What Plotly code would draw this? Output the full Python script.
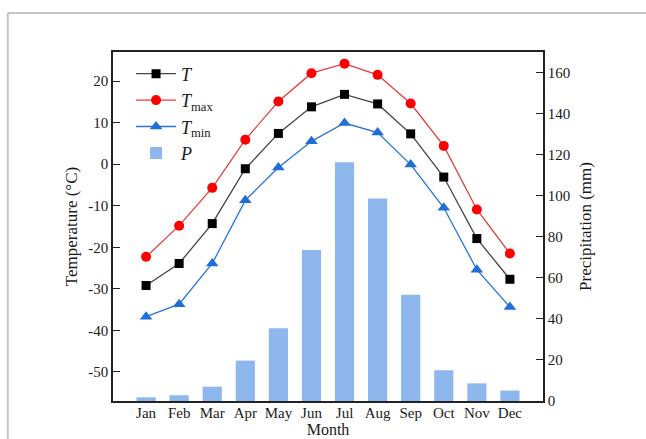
import plotly.graph_objects as go

months = ["Jan", "Feb", "Mar", "Apr", "May", "Jun", "Jul", "Aug", "Sep", "Oct", "Nov", "Dec"]
t_mean = [-29.2, -23.9, -14.3, -1.1, 7.4, 13.8, 16.8, 14.5, 7.3, -3.1, -17.9, -27.7]
t_max = [-22.3, -14.8, -5.7, 5.9, 15.1, 21.9, 24.2, 21.5, 14.6, 4.4, -10.9, -21.5]
t_min = [-36.7, -33.7, -23.9, -8.7, -0.8, 5.5, 9.9, 7.6, -0.1, -10.5, -25.4, -34.4]
precip = [1.8, 2.8, 7.0, 19.7, 35.5, 73.6, 116.4, 98.8, 51.8, 15.0, 8.6, 5.1]
temp_ticks = [-50, -40, -30, -20, -10, 0, 10, 20]
temp_labels = ["-50", "-40", "-30", "-20", "-10", "0", "10", "20"]
precip_ticks = [0, 20, 40, 60, 80, 100, 120, 140, 160]

FONT = "Liberation Serif"
W, H = 646, 439
L, R, T, B = 112.5, 102.5, 52, 38
pw, ph = W - L - R, H - T - B

fig = go.Figure()
fig.add_trace(go.Scatter(x=months, y=t_mean, name="<i>T</i>", mode="lines+markers",
                         line=dict(color="#444444", width=1.3),
                         marker=dict(symbol="square", size=9, color="#000000"), yaxis="y"))
fig.add_trace(go.Scatter(x=months, y=t_max, name="<i>T</i><sub>max</sub>", mode="lines+markers",
                         line=dict(color="#E0403F", width=1.3),
                         marker=dict(symbol="circle", size=10, color="#FF0000"), yaxis="y"))
fig.add_trace(go.Scatter(x=months, y=t_min, name="<i>T</i><sub>min</sub>", mode="lines+markers",
                         line=dict(color="#2A74D4", width=1.3),
                         marker=dict(symbol="triangle-up", size=11, color="#1F6FD6"), yaxis="y"))
fig.add_trace(go.Bar(x=months, y=precip, name="<i>P</i>", marker=dict(color="#8EB7EE", line=dict(width=0)),
                     width=0.58, yaxis="y2"))

def px_x(px):
    return (px - L) / pw

def px_y(py):
    return (H - B - py) / ph

fig.update_layout(
    width=W, height=H,
    margin=dict(l=L, r=R, t=T, b=B, autoexpand=False),
    paper_bgcolor="white", plot_bgcolor="white",
    font=dict(family=FONT, size=15, color="#1a1a1a"),
    showlegend=True,
    legend=dict(x=0.042, y=0.99, xanchor="left", yanchor="top",
                bgcolor="rgba(0,0,0,0)", font=dict(size=18, family=FONT),
                tracegroupgap=0, itemwidth=40),
    xaxis=dict(type="category", range=[-1, 12], showline=True, linecolor="#222", linewidth=1.5,
               mirror=True, ticks="", showgrid=False, zeroline=False, ticklabelstandoff=-3,
               tickfont=dict(size=15), title=dict(text="Month", font=dict(size=16), standoff=4)),
    yaxis=dict(range=[-57, 27], tickvals=temp_ticks, ticktext=temp_labels, ticks="inside", ticklen=7,
               tickwidth=1.3, tickcolor="#222", showline=True, linecolor="#222", linewidth=1.5,
               showgrid=False, zeroline=False, tickfont=dict(size=15),
               title=dict(text="Temperature (°C)", font=dict(size=17), standoff=6)),
    yaxis2=dict(range=[0, 170.2], tickvals=precip_ticks, ticks="inside", ticklen=7, tickwidth=1.3,
                tickcolor="#222", showline=True, linecolor="#222", linewidth=1.5,
                overlaying="y", side="right", showgrid=False, zeroline=False,
                tickfont=dict(size=15),
                title=dict(text="Precipitation (mm)", font=dict(size=17), standoff=10)),
    bargap=0.42,
)

# page frame lines (gray border of the figure image)
fig.add_shape(type="line", xref="paper", yref="paper", x0=px_x(7), x1=px_x(7), y0=px_y(13), y1=px_y(H + 5),
              line=dict(color="#C4C4C4", width=2))
fig.add_shape(type="line", xref="paper", yref="paper", x0=px_x(7), x1=px_x(W + 5), y0=px_y(13), y1=px_y(13),
              line=dict(color="#C4C4C4", width=2))

fig.write_html("out.html", config={"displayModeBar": False},
               post_script="document.body.style.margin='0';document.body.style.overflow='hidden';")
